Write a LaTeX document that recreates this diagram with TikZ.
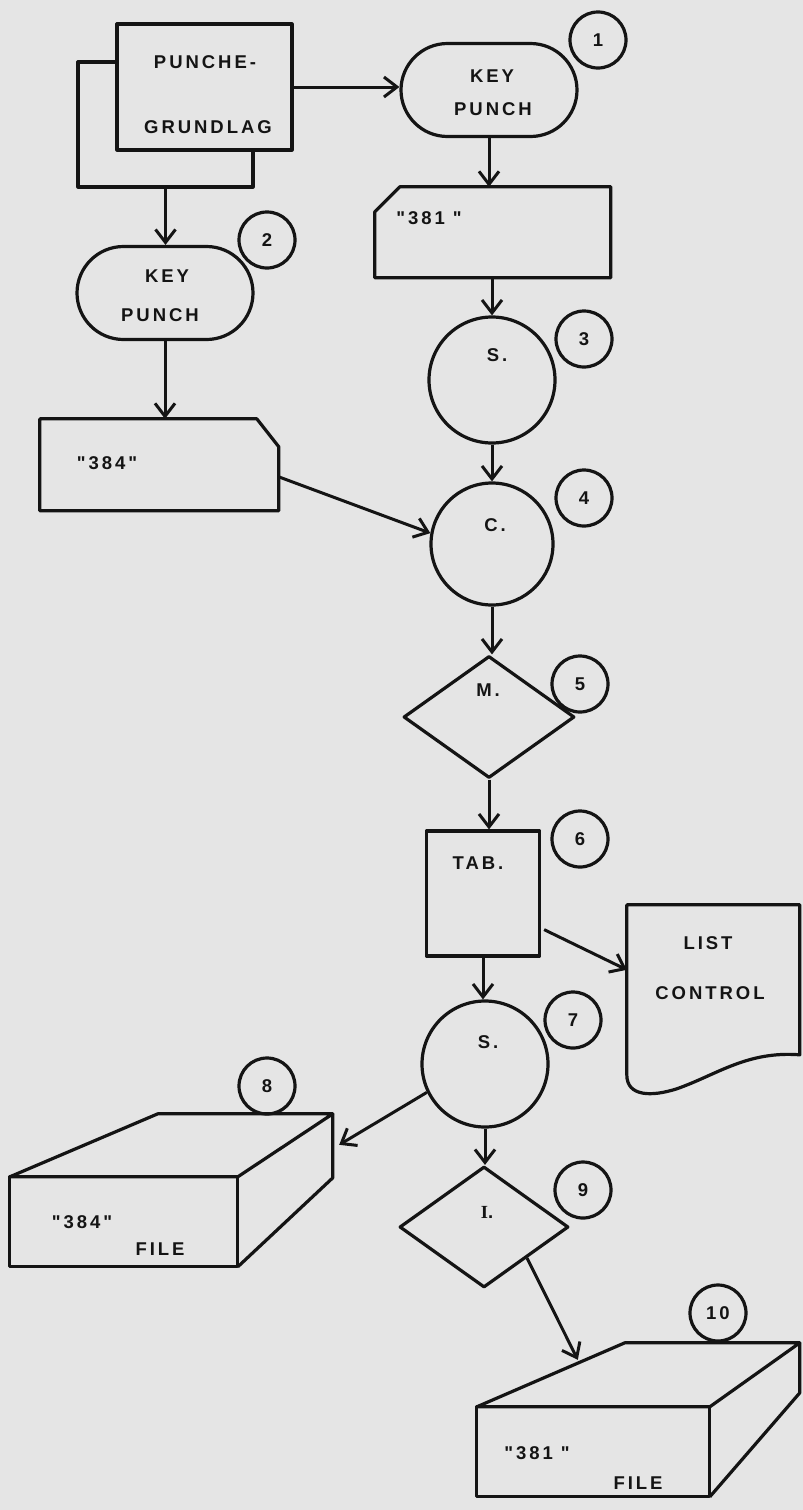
\documentclass[tikz,border=0pt]{standalone}
\usepackage{fontspec}
\newfontfamily\lett[LetterSpace=16,Ligatures=TeXOff]{Liberation Sans Bold}
\newfontfamily\letts[Ligatures=TeXOff]{Liberation Serif Bold}
\usetikzlibrary{shapes.geometric,shapes.misc,arrows.meta,calc}
\definecolor{paper}{RGB}{229,229,229}
\definecolor{ink}{RGB}{20,20,20}
\begin{document}
\begin{tikzpicture}[x=1pt,y=-1pt,
  every node/.style={font={\lett\fontsize{18.5}{22}\selectfont}, text=ink},
  ln/.style={draw=ink, line width=3.2pt, line join=round},
  arr/.style={draw=ink, line width=3pt, -{Straight Barb[length=13pt,width=20pt,line width=3pt]}},
  tag/.style={circle, ln, minimum size=56pt, inner sep=0pt},
  hold/.style={rectangle, draw=none, inner sep=0pt},
  termbox/.style={rounded rectangle, ln, minimum width=176pt, minimum height=93pt, inner sep=0pt},
  procbox/.style={circle, ln, inner sep=0pt},
  decbox/.style={diamond, ln, inner sep=0pt},
  txt/.style={inner sep=0pt}
]
\fill[paper] (0,0) rectangle (803,1510);
\useasboundingbox (0,0) rectangle (803,1510);

% PUNCHE-GRUNDLAG (two documents)
\node[rectangle, ln, minimum width=175pt, minimum height=125pt] (pgb) at (165.5,124.5) {};
\node[rectangle, ln, fill=paper, minimum width=175pt, minimum height=126pt] (pg) at (204.5,87) {};
\node[txt] (pgt1) at (205,62) {PUNCHE-};
\node[txt] (pgt2) at (208,127) {GRUNDLAG};

% key punch 1
\node[termbox] (kp1) at (489,90) {};
\node[txt] (kp1a) at (492,76) {KEY};
\node[txt] (kp1b) at (493,109) {PUNCH};
\node[tag] (t1) at (598,40) {1};

% key punch 2
\node[termbox] (kp2) at (165,293) {};
\node[txt] (kp2a) at (167,276) {KEY};
\node[txt] (kp2b) at (160,315) {PUNCH};
\node[tag] (t2) at (267,240) {2};

% card 381
\node[hold, minimum width=236pt, minimum height=91pt] (c381) at (493,232.5) {};
\begin{scope}[shift={(c381.north west)}]
  \draw[ln] (0,25) -- (25,0) -- (236,0) -- (236,91) -- (0,91) -- cycle;
\end{scope}
\node[txt] (c381t) at (429,218) {"381 "};

% card 384
\node[hold, minimum width=239pt, minimum height=92pt] (c384) at (159.5,465) {};
\begin{scope}[shift={(c384.north west)}]
  \draw[ln] (0,0) -- (217,0) -- (239,28) -- (239,92) -- (0,92) -- cycle;
\end{scope}
\node[txt] (c384t) at (107,463) {"384"};

% S. 3
\node[procbox, minimum size=126pt] (s3) at (492,380) {};
\node[txt] (s3t) at (497,355) {S.};
\node[tag] (t3) at (584,339) {3};

% C. 4
\node[procbox, minimum size=122pt] (c4) at (492,544) {};
\node[txt] (c4t) at (495,525) {C.};
\node[tag] (t4) at (584,498) {4};

% M. 5
\node[decbox, minimum width=171pt, minimum height=122pt] (m5) at (489,717) {};
\node[txt] (m5t) at (488,690) {M.};
\node[tag] (t5) at (580,684) {5};

% TAB. 6
\node[rectangle, ln, minimum width=113pt, minimum height=125pt] (tab) at (483,893.5) {};
\node[txt] (tabt) at (478,863) {TAB.};
\node[tag] (t6) at (580,839) {6};

% LIST CONTROL document
\node[hold, minimum width=173pt, minimum height=188pt] (list) at (713.5,999) {};
\begin{scope}[shift={(list.north west)}]
  \draw[ln] (0,170) -- (0,0) -- (173,0) -- (173,150)
    .. controls (120,146) and (90,170) .. (50,184)
    .. controls (25,192) and (0,192) .. (0,170);
\end{scope}
\node[txt] (listt1) at (708,943) {LIST};
\node[txt] (listt2) at (710,993) {CONTROL};

% S. 7
\node[procbox, minimum size=126pt] (s7) at (485,1064) {};
\node[txt] (s7t) at (488,1042) {S.};
\node[tag] (t7) at (573,1020) {7};

% "384" FILE 8
\node[hold, minimum width=323pt, minimum height=153pt] (f384) at (171.5,1190.5) {};
\begin{scope}[shift={(f384.north west)}]
  \draw[ln] (0,63) -- (148,0) -- (323,0) -- (228,63) -- cycle;
  \draw[ln] (0,63) rectangle (228,153);
  \draw[ln] (323,0) -- (323,64) -- (228,153);
\end{scope}
\node[txt] (f384a) at (82,1222) {"384"};
\node[txt] (f384b) at (160,1249) {FILE};
\node[tag] (t8) at (267,1086) {8};

% I. 9
\node[decbox, minimum width=169pt, minimum height=121pt] (i9) at (484,1227) {};
\node[txt] (i9t) at (487,1212) {{\letts\fontsize{18.5}{22}\selectfont I}.};
\node[tag] (t9) at (583,1190) {9};

% "381" FILE 10
\node[hold, minimum width=323pt, minimum height=154pt] (f381) at (638.5,1420) {};
\begin{scope}[shift={(f381.north west)}]
  \draw[ln] (0,64) -- (148,0) -- (323,0) -- (233,64) -- cycle;
  \draw[ln] (0,64) rectangle (233,154);
  \draw[ln] (323,0) -- (323,50) -- (233,154);
\end{scope}
\node[txt] (f381a) at (537,1453) {"381 "};
\node[txt] (f381b) at (638,1483) {FILE};
\node[tag] (t10) at (718,1313) {10};

% connectors
\draw[arr] (pg.east) -- (pg.east -| kp1.west);
\draw[arr] (pgb.south) -- (pgb.south |- kp2.north);
\draw[arr] (kp1.south) -- (kp1.south |- c381.north);
\draw[arr] (s3.north |- c381.south) -- (s3.north);
\draw[arr] (kp2.south) -- (kp2.south |- c384.north);
\draw[arr] (s3.south) -- (c4.north);
\draw[arr] ($(c384.east)+(0,12)$) -- (c4.170);
\draw[arr] (c4.south) -- (c4.south |- m5.north);
\draw[arr] (m5.south) -- (m5.south |- tab.north);
\draw[arr] ($(tab.south east)+(3,-28)$) -- ($(list.north west)+(0,65)$);
\draw[arr] (tab.south) -- (tab.south |- s7.north);
\draw[arr] (s7.206) -- ($(f384.north east)+(6,31)$);
\draw[arr] (s7.south) -- (s7.south |- i9.north);
\draw[arr] (i9.south east) -- ($(f381.north west)+(101,17)$);
\end{tikzpicture}
\end{document}
